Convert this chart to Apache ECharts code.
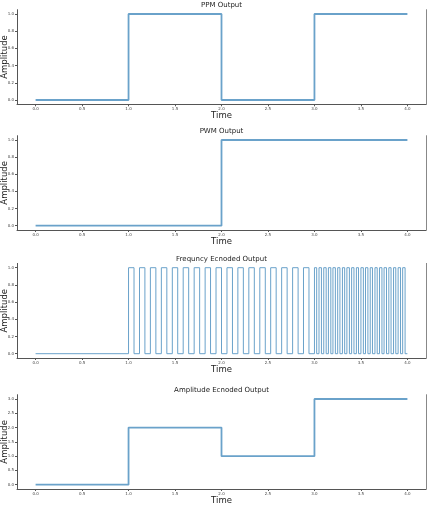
<!DOCTYPE html>
<html>
<head>
<meta charset="utf-8">
<script src="https://cdn.jsdelivr.net/npm/echarts@6/dist/echarts.min.js"></script>
<style>
  html, body { margin: 0; padding: 0; background: #fff; }
  #chart { width: 430px; height: 511px; }
</style>
</head>
<body>
<div id="chart"></div>
<script>
// segment start times and levels (held until next time)
var times = [0, 1, 2, 3, 4];
var ppmLevels = [0, 1, 0, 1, 1];
var pwmLevels = [0, 0, 1, 1, 1];
var ampLevels = [0, 2, 1, 3, 3];

// frequency encoded: times where the level toggles (first toggle goes up)
var freqEdges = [
  1.000, 1.059, 1.118, 1.176, 1.235, 1.294, 1.353, 1.412, 1.471, 1.529,
  1.588, 1.647, 1.706, 1.765, 1.824, 1.882, 1.941, 2.000, 2.059, 2.118,
  2.176, 2.235, 2.294, 2.353, 2.412, 2.471, 2.529, 2.588, 2.647, 2.706,
  2.765, 2.824, 2.882, 2.941, 3.000, 3.024, 3.049, 3.075, 3.100, 3.126,
  3.150, 3.176, 3.199, 3.225, 3.250, 3.274, 3.301, 3.325, 3.349, 3.376,
  3.400, 3.425, 3.451, 3.474, 3.500, 3.526, 3.549, 3.575, 3.600, 3.624,
  3.651, 3.675, 3.700, 3.726, 3.749, 3.775, 3.800, 3.824, 3.851, 3.875,
  3.900, 3.926, 3.949, 3.975
];

var xTicks = [0, 0.5, 1, 1.5, 2, 2.5, 3, 3.5, 4];
var yTicksUnit = [0, 0.2, 0.4, 0.6, 0.8, 1.0];
var yTicksAmp = [0, 0.5, 1.0, 1.5, 2.0, 2.5, 3.0];
var titles = ['PPM Output', 'PWM Output', 'Frequncy Ecnoded Output', 'Amplitude Ecnoded Output'];

function pairs(levels) {
  return times.map(function (t, i) { return [t, levels[i]]; });
}
var freqData = [[0, 0]];
freqEdges.forEach(function (t, i) { freqData.push([t, i % 2 === 0 ? 1 : 0]); });
freqData.push([4, freqData[freqData.length - 1][1]]);

var grids = [
  { left: 17, right: 4, top: 9.7, height: 94.6, outerBoundsMode: 'none' },
  { left: 17, right: 4, top: 135.7, height: 94.3, outerBoundsMode: 'none' },
  { left: 17, right: 4, top: 263.4, height: 94.6, outerBoundsMode: 'none' },
  { left: 17, right: 4, top: 394.7, height: 94.3, outerBoundsMode: 'none' }
];

var font = 'DejaVu Sans';
var xAxes = [], yAxes = [], titleList = [];
grids.forEach(function (g, i) {
  xAxes.push({
    type: 'value', gridIndex: i, min: -0.2, max: 4.2,
    name: 'Time', nameLocation: 'middle', nameGap: 7, nameMoveOverlap: false,
    nameTextStyle: { fontSize: 8.5, color: '#222', fontFamily: font },
    axisLine: { onZero: false, lineStyle: { color: '#555', width: 1 } },
    axisTick: { customValues: xTicks, length: 2, lineStyle: { color: '#555' } },
    axisLabel: { customValues: xTicks, fontSize: 4, color: '#444', margin: 3, fontFamily: font,
      formatter: function (v) { return v.toFixed(1); } },
    splitLine: { show: false }
  });
  var yt = i === 3 ? yTicksAmp : yTicksUnit;
  var ymin = i === 3 ? -0.15 : -0.05;
  var ymax = i === 3 ? 3.15 : 1.05;
  yAxes.push({
    type: 'value', gridIndex: i, min: ymin, max: ymax, position: 'left',
    name: 'Amplitude', nameLocation: 'middle', nameGap: 8, nameMoveOverlap: false,
    nameTextStyle: { fontSize: 8.5, color: '#222', fontFamily: font },
    axisLine: { show: true, onZero: false, lineStyle: { color: '#555', width: 1 } },
    axisTick: { show: true, customValues: yt, length: 2, lineStyle: { color: '#555' } },
    axisLabel: { customValues: yt, fontSize: 4, color: '#444', margin: 3, fontFamily: font,
      formatter: function (v) { return v.toFixed(1); } },
    splitLine: { show: false }
  });
  // right spine
  yAxes.push({
    type: 'value', gridIndex: i, min: ymin, max: ymax, position: 'right',
    axisLine: { show: true, onZero: false, lineStyle: { color: '#888', width: 1 } },
    axisTick: { show: false }, axisLabel: { show: false }, splitLine: { show: false }
  });
  titleList.push({
    text: titles[i], left: 221.5, textAlign: 'center', top: g.top - 8, padding: 0,
    textStyle: { fontSize: 7, fontWeight: 'normal', color: '#222', fontFamily: font }
  });
});

var lineColor = '#6aa2ca';
function stepSeries(idx, data, width) {
  return {
    type: 'line', xAxisIndex: idx, yAxisIndex: idx * 2, data: data,
    step: 'end', symbol: 'none', animation: false,
    lineStyle: { color: lineColor, width: width }
  };
}

var chart = echarts.init(document.getElementById('chart'), null, { renderer: 'canvas' });
chart.setOption({
  animation: false,
  title: titleList,
  grid: grids,
  xAxis: xAxes,
  yAxis: yAxes,
  series: [
    stepSeries(0, pairs(ppmLevels), 1.8),
    stepSeries(1, pairs(pwmLevels), 1.8),
    stepSeries(2, freqData, 1),
    stepSeries(3, pairs(ampLevels), 1.8)
  ]
});
</script>
</body>
</html>
